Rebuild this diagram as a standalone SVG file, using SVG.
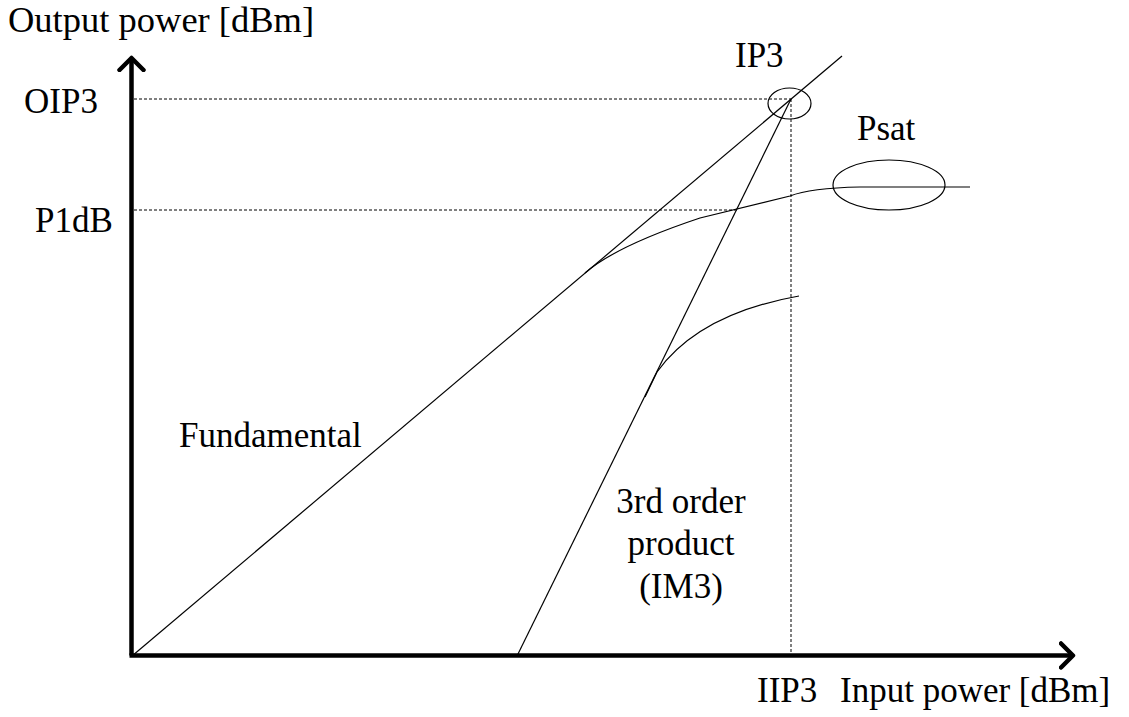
<svg xmlns="http://www.w3.org/2000/svg" width="1129" height="717" viewBox="0 0 1129 717">
<defs>
<style>
text{font-family:"Liberation Serif","Times New Roman",serif;font-size:35px;fill:#000}
.axis{stroke:#000;stroke-width:4.5;fill:none}
.thin{stroke:#000;stroke-width:1.2;fill:none}
.dash{stroke:#000;stroke-width:1;stroke-dasharray:3 2;fill:none}
</style>
<marker id="arr" markerUnits="userSpaceOnUse" markerWidth="30" markerHeight="30" refX="14" refY="15" orient="auto" viewBox="0 0 30 30">
<polyline points="2,3 14,15 2,27" fill="none" stroke="#000" stroke-width="4.5" stroke-linecap="round" stroke-linejoin="round"/>
</marker>
</defs>
<rect width="1129" height="717" fill="#fff"/>
<g id="axes">
<line class="axis" x1="131.5" y1="655.5" x2="131.5" y2="58" marker-end="url(#arr)"/>
<line class="axis" x1="129.5" y1="655.5" x2="1073" y2="655.5" marker-end="url(#arr)"/>
</g>
<g id="connectors">
<line class="dash" x1="134" y1="99" x2="791" y2="99"/>
<line class="dash" x1="134" y1="210" x2="737" y2="210"/>
<line class="dash" x1="791" y1="99" x2="791" y2="653"/>
<line class="thin" x1="132" y1="656" x2="842" y2="56"/>
<line class="thin" x1="517" y1="656" x2="791" y2="99"/>
<path class="thin" d="M585,273 Q616,246 700,218 L790,196 Q810,188 860,187 L970,187"/>
<path class="thin" d="M645,397 L657,372 C680,340 720,310 799,296"/>
</g>
<g id="ip3">
<ellipse class="thin" cx="789.5" cy="103.5" rx="21.5" ry="15.5"/>
<text x="735" y="67">IP3</text>
</g>
<g id="psat">
<ellipse class="thin" cx="889" cy="185" rx="56" ry="25"/>
<text x="857" y="140">Psat</text>
</g>
<g id="labels">
<text x="8" y="32" style="font-size:36.5px">Output power [dBm]</text>
<text x="24" y="113">OIP3</text>
<text x="35" y="232">P1dB</text>
<text x="179" y="447">Fundamental</text>
<text x="681" y="513" text-anchor="middle">3rd order</text>
<text x="681" y="555" text-anchor="middle">product</text>
<text x="681" y="598" text-anchor="middle">(IM3)</text>
<text x="757" y="702">IIP3</text>
<text x="840" y="702">Input power [dBm]</text>
</g>
</svg>
